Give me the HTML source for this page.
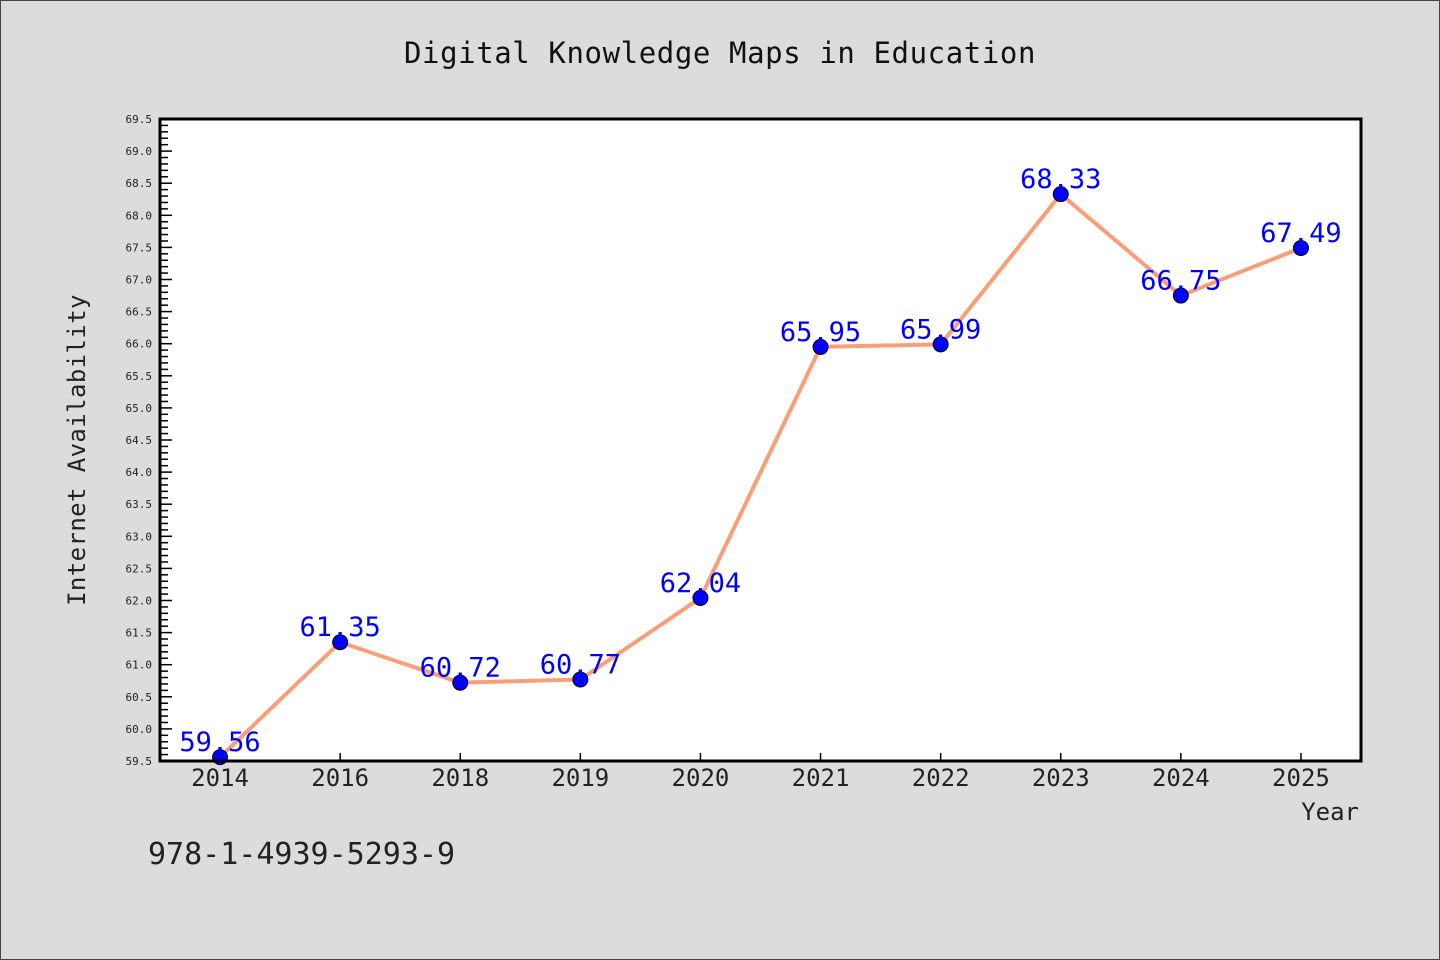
<!DOCTYPE html>
<html><head><meta charset="utf-8"><style>
body{margin:0;background:#dcdcdc;}
svg{display:block;font-family:"WenQuanYi Zen Hei Mono","WenQuanYi Zen Hei","DejaVu Sans Mono",monospace;}
</style></head><body>
<svg width="1440" height="960" viewBox="0 0 1440 960">
<rect x="0.5" y="0.5" width="1439" height="959" fill="#dcdcdc" stroke="#444"/>
<text x="720" y="63" text-anchor="middle" font-size="29" letter-spacing="0.6" fill="#111">Digital Knowledge Maps in Education</text>
<rect x="160" y="119" width="1201" height="642" fill="#fff"/>
<g id="yaxis"></g>
<g id="xaxis"></g>
<g id="series"></g>
<rect x="160" y="119" width="1201" height="642" fill="none" stroke="#000" stroke-width="3"/>
<text transform="translate(85,450) rotate(-90)" text-anchor="middle" font-size="24" letter-spacing="0.4" fill="#222">Internet Availability</text>
<text x="1359" y="820" text-anchor="end" font-size="24" fill="#222">Year</text>
<text x="148" y="864" font-size="30" fill="#222">978-1-4939-5293-9</text>
</svg>
<script>
const categories=["2014","2016","2018","2019","2020","2021","2022","2023","2024","2025"];
const values=[59.56,61.35,60.72,60.77,62.04,65.95,65.99,68.33,66.75,67.49];
const labels=["59.56","61.35","60.72","60.77","62.04","65.95","65.99","68.33","66.75","67.49"];
const yMin=59.5, yMax=69.5;
const X0=160,X1=1361,Y0=761,Y1=119;
const NS="http://www.w3.org/2000/svg";
function y(v){return Y0-(v-yMin)/(yMax-yMin)*(Y0-Y1);}
function x(i){const step=(X1-X0)/categories.length;return X0+step*(i+0.5);}
function mk(t,a,p){const e=document.createElementNS(NS,t);for(const k in a)e.setAttribute(k,a[k]);p.appendChild(e);return e;}
const ya=document.getElementById('yaxis');
for(let k=0;k<=100;k++){
  const v=yMin+k*0.1, yy=y(v), major=k%5===0;
  const t=mk('line',{x1:X0,x2:X0+(major?12:8),y1:yy,y2:yy,stroke:'#000','stroke-width':1.5},ya);
  
  
  if(major){
    const l=mk('text',{x:X0-8,y:yy+4,'text-anchor':'end','font-size':11,fill:'#222'},ya);
    l.textContent=v.toFixed(1);
    
    
  }
}
const xa=document.getElementById('xaxis');
categories.forEach((c,i)=>{
  const t=mk('line',{x1:x(i),x2:x(i),y1:Y0,y2:Y0-8,stroke:'#000','stroke-width':1.5},xa);
  
  
  const l=mk('text',{x:x(i),y:Y0+25,'text-anchor':'middle','font-size':24,fill:'#222'},xa);
  l.textContent=c;
  
  
});
const s=document.getElementById('series');
const line=mk('polyline',{points:values.map((v,i)=>x(i)+','+y(v)).join(' '),fill:'none',stroke:'#fa9e7a','stroke-width':4,'stroke-linejoin':'round'},s);


values.forEach((v,i)=>{
  const c=mk('circle',{cx:x(i),cy:y(v),r:7.5,fill:'#0000ff',stroke:'#000','stroke-width':1},s);
  
  
  const t=mk('text',{x:x(i),y:y(v)-6,'text-anchor':'middle','font-size':27,fill:'#0000ff'},s);
  t.textContent=labels[i];
  
  
});
</script>
</body></html>
